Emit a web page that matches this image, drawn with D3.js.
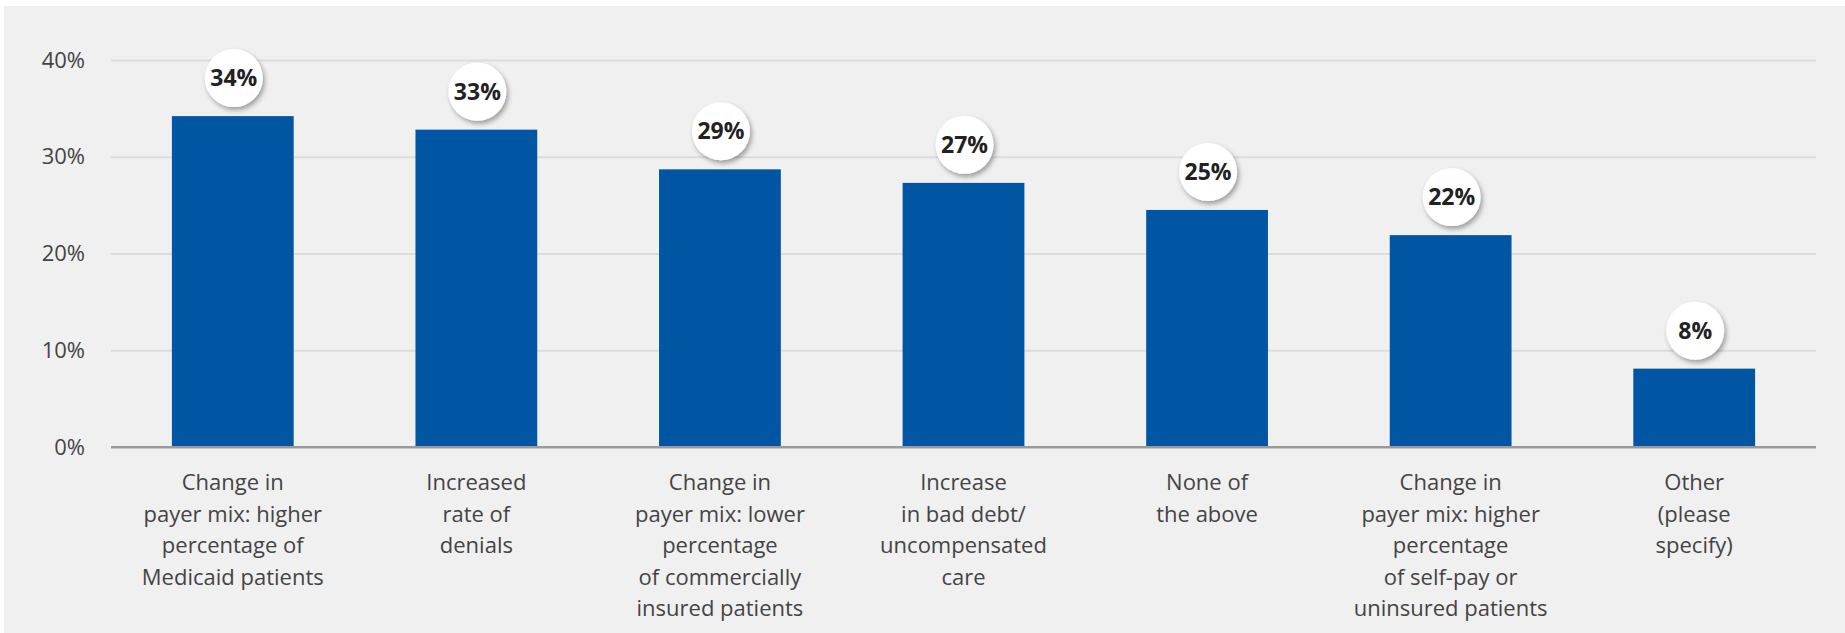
<!DOCTYPE html>
<html>
<head>
<meta charset="utf-8">
<script src="https://cdn.jsdelivr.net/npm/d3@7"></script>
<style>
  html, body { margin: 0; padding: 0; background: #fff; }
  svg { display: block; }
</style>
</head>
<body>
<div class="chart"></div>
<script>
// categories, each label split into its lines
const categories = [
  ["Change in", "payer mix: higher", "percentage of", "Medicaid patients"],
  ["Increased", "rate of", "denials"],
  ["Change in", "payer mix: lower", "percentage", "of commercially", "insured patients"],
  ["Increase", "in bad debt/", "uncompensated", "care"],
  ["None of", "the above"],
  ["Change in", "payer mix: higher", "percentage", "of self-pay or", "uninsured patients"],
  ["Other", "(please", "specify)"]
];
const values = [34.2, 32.8, 28.7, 27.3, 24.5, 21.9, 8.1];
const labels = ["34%", "33%", "29%", "27%", "25%", "22%", "8%"];
const yTicks = [0, 10, 20, 30, 40];

const width = 1845, height = 633;
const margin = {left: 111, right: 29, top: 60, bottom: 186};

var svg = d3.select(".chart").append("svg")
  .attr("width", width)
  .attr("height", height)
  .style("font-family", "'Open Sans', sans-serif");

// grey panel
svg.append("rect")
  .attr("x", 4).attr("y", 6)
  .attr("width", width - 4).attr("height", height - 6)
  .attr("fill", "#f0f0f0");

var defs = svg.append("defs");
var shadow = defs.append("filter").attr("id", "shadow")
  .attr("x", "-50%").attr("y", "-50%").attr("width", "200%").attr("height", "200%");
shadow.append("feDropShadow")
  .attr("dx", 2).attr("dy", 3).attr("stdDeviation", 2.5)
  .attr("flood-color", "#000").attr("flood-opacity", 0.35);

var x = d3.scaleBand()
  .domain(d3.range(categories.length))
  .range([margin.left, width - margin.right])
  .paddingInner(0.5)
  .paddingOuter(0.25);

var y = d3.scaleLinear()
  .domain([0, 40])
  .range([height - margin.bottom, margin.top]);

// gridlines + y labels
var yAxis = svg.append("g")
  .attr("transform", "translate(" + margin.left + ",0)")
  .call(d3.axisLeft(y).tickValues(yTicks).tickFormat(d => d + "%")
    .tickSize(-(width - margin.left - margin.right)).tickPadding(26));
yAxis.select(".domain").remove();
yAxis.selectAll(".tick line")
  .attr("stroke", d => d === 0 ? "#9a9a9a" : "#dcdcdc")
  .attr("stroke-width", 2);
yAxis.selectAll(".tick text")
  .attr("fill", "#444")
  .style("font-size", "22px")
  .style("font-family", "'Open Sans', sans-serif");

// bars
svg.append("g").selectAll("rect")
  .data(values)
  .enter().append("rect")
  .attr("x", (d, i) => x(i))
  .attr("y", d => y(d))
  .attr("width", x.bandwidth())
  .attr("height", d => y(0) - y(d))
  .attr("fill", "#0056a3");

// redraw baseline over bars
svg.append("line")
  .attr("x1", margin.left).attr("x2", width - margin.right)
  .attr("y1", y(0)).attr("y2", y(0))
  .attr("stroke", "#9a9a9a").attr("stroke-width", 2);

// bubble labels
var bubbles = svg.append("g").selectAll("g")
  .data(values)
  .enter().append("g")
  .attr("transform", (d, i) => "translate(" + (x(i) + x.bandwidth() / 2 + 1) + "," + (y(d) - 38) + ")");
bubbles.append("circle")
  .attr("r", 29)
  .attr("fill", "#fff")
  .attr("filter", "url(#shadow)");
bubbles.append("text")
  .attr("text-anchor", "middle")
  .attr("dy", "0.35em")
  .attr("fill", "#222")
  .style("font-size", "23px")
  .style("font-weight", "bold")
  .text((d, i) => labels[i]);

// category labels
var cats = svg.append("g").selectAll("text")
  .data(categories)
  .enter().append("text")
  .attr("text-anchor", "middle")
  .attr("fill", "#444")
  .style("font-size", "22px")
  .attr("transform", (d, i) => "translate(" + (x(i) + x.bandwidth() / 2) + "," + (y(0) + 43) + ")");
cats.selectAll("tspan")
  .data(d => d)
  .enter().append("tspan")
  .attr("x", 0)
  .attr("y", (d, j) => j * 31.6)
  .text(d => d);
</script>
</body>
</html>
